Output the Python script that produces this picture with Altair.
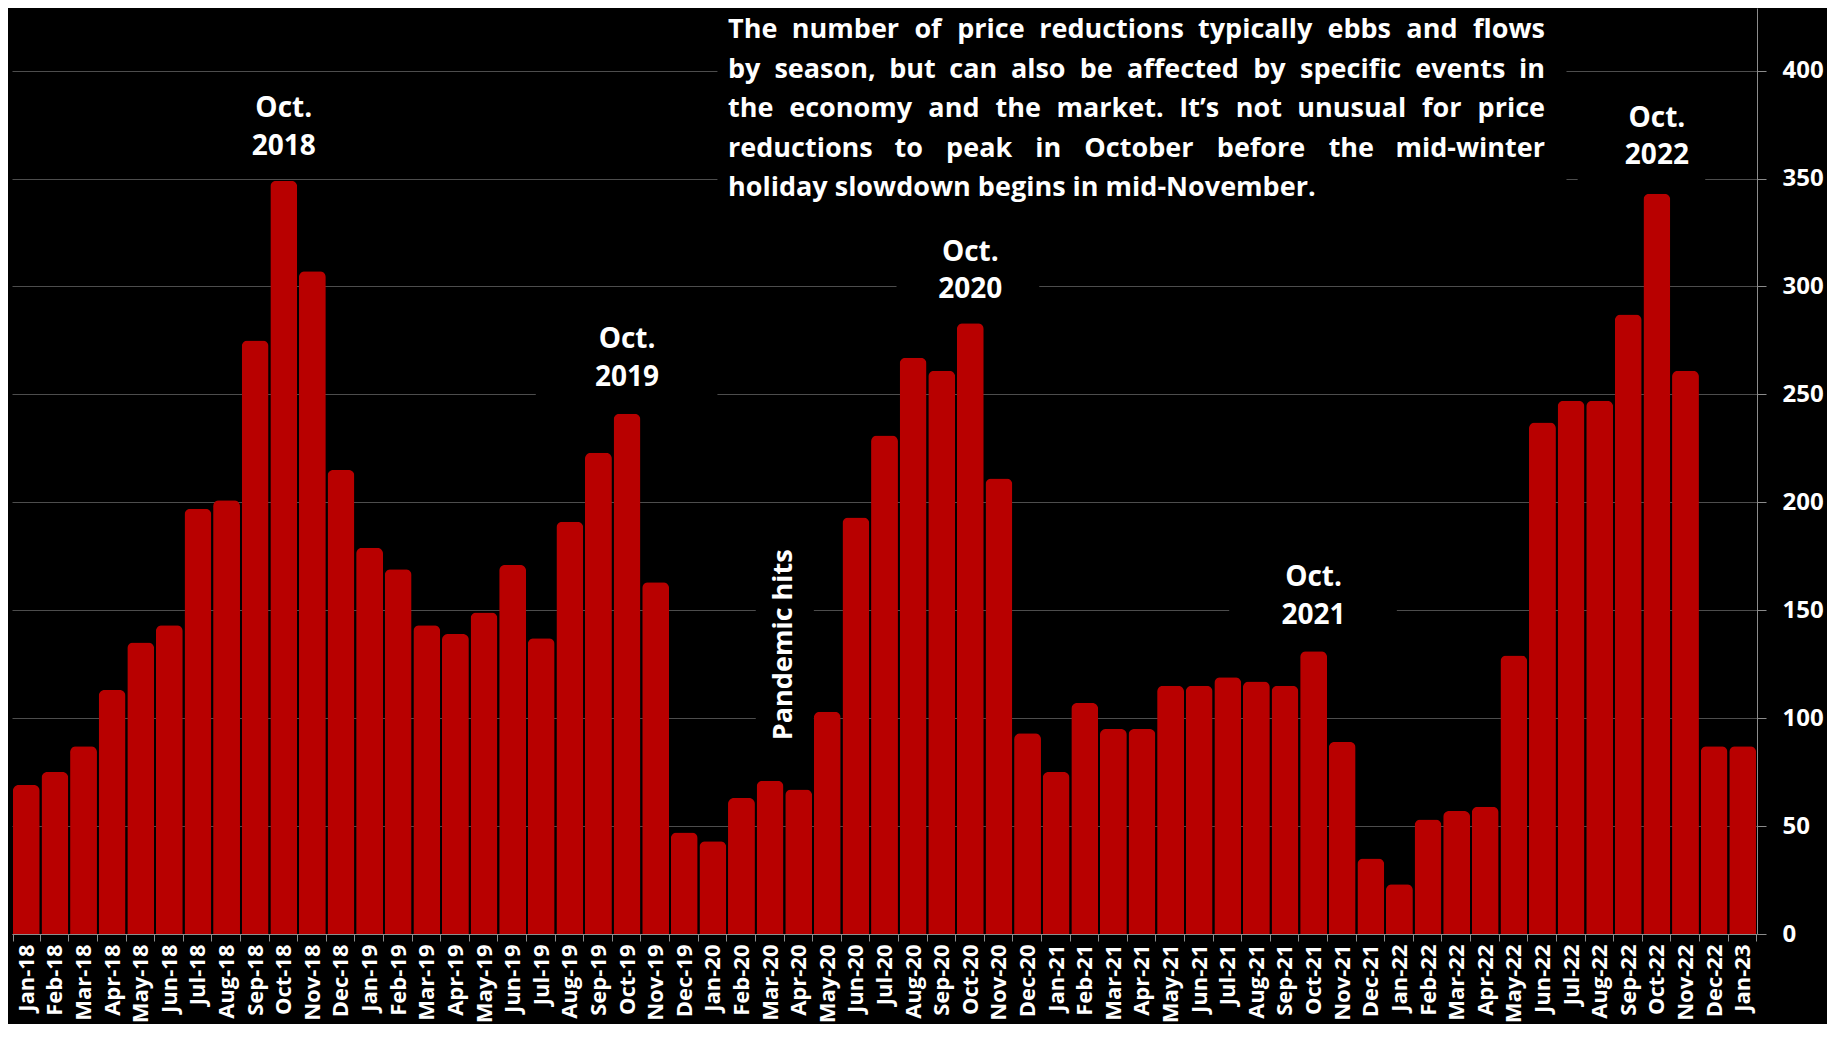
import altair as alt
import pandas as pd

FONT = "Open Sans"

month_names = ["Jan", "Feb", "Mar", "Apr", "May", "Jun", "Jul", "Aug", "Sep", "Oct", "Nov", "Dec"]
months = [f"{m}-{y}" for y in ["18", "19", "20", "21", "22"] for m in month_names] + ["Jan-23"]

values = [69, 75, 87, 113, 135, 143, 197, 201, 275, 349, 307, 215,
          179, 169, 143, 139, 149, 171, 137, 191, 223, 241, 163, 47,
          43, 63, 71, 67, 103, 193, 231, 267, 261, 283, 211, 93,
          75, 107, 95, 95, 115, 115, 119, 117, 115, 131, 89, 35,
          23, 53, 57, 59, 129, 237, 247, 247, 287, 343, 261, 87,
          87]

y_ticks = [0, 50, 100, 150, 200, 250, 300, 350, 400]

# peak annotations (two lines each)
peak_months = ["Oct-18", "Oct-19", "Oct-20", "Oct-21", "Oct-22"]
peak_years = ["2018", "2019", "2020", "2021", "2022"]
peak_line1_y = [382, 275, 315.7, 164.7, 377.6]
peak_line2_y = [364.7, 257.6, 298.2, 147.2, 360.5]

# explanatory note (justified block)
note_lines = [
    "The number of price reductions typically ebbs and flows",
    "by season, but can also be affected by specific events in",
    "the economy and the market. It\u2019s not unusual for price",
    "reductions to peak in October before the mid-winter",
    "holiday slowdown begins in mid-November.",
]
note_y = [414.9, 396.6, 378.3, 360.0, 341.7]

pandemic_text = "Pandemic hits"
pandemic_x = 27.0      # month-index units (boundary Mar-20 / Apr-20)
pandemic_y = 134

# black label backgrounds (month-index units, values)
box_x1 = [24.66, 18.31, 30.92, 42.55, 54.73, 26.0]
box_x2 = [54.34, 24.66, 35.91, 48.41, 59.19, 28.03]
box_y1 = [318, 236, 286, 136, 340, 84]
box_y2 = [429, 290, 334, 178, 388, 184]

# ---------------- layout helpers ----------------
N = len(months)
W, H = 1745, 926
STEP = W / N
NOTE_LEFT, NOTE_RIGHT = 716.0, 1533.0   # plot-area pixels
NOTE_SIZE = 27

# approximate advance widths (em) of Open Sans Bold, used to justify the note
CW = {" ": .26, "a": .57, "b": .62, "c": .50, "d": .62, "e": .58, "f": .39, "g": .55, "h": .63,
      "i": .29, "k": .60, "l": .29, "m": .95, "n": .63, "o": .61, "p": .62, "r": .43, "s": .49,
      "t": .41, "u": .63, "v": .56, "w": .84, "y": .56, "T": .56, "I": .34, "O": .79, "N": .80,
      ",": .26, ".": .27, "-": .32, "\u2019": .20}


def wwidth(word):
    return sum(CW.get(c, .58) for c in word) * NOTE_SIZE * 1.02


note_rows = []
for li, line in enumerate(note_lines):
    yv = note_y[li]
    if li == len(note_lines) - 1:
        note_rows.append({"idx": NOTE_LEFT / STEP, "value": yv, "label": line, "al": "left"})
        continue
    words = line.split(" ")
    widths = [wwidth(w) for w in words]
    gap = (NOTE_RIGHT - NOTE_LEFT - sum(widths)) / (len(words) - 1)
    x = NOTE_LEFT
    for wi, (w, wd) in enumerate(zip(words, widths)):
        if wi == 0:
            note_rows.append({"idx": x / STEP, "value": yv, "label": w, "al": "left"})
        elif wi == len(words) - 1:
            note_rows.append({"idx": NOTE_RIGHT / STEP, "value": yv, "label": w, "al": "right"})
        else:
            note_rows.append({"idx": (x + wd / 2) / STEP, "value": yv, "label": w, "al": "center"})
        x += wd + gap

note_df = pd.DataFrame(note_rows)

df = pd.DataFrame({"month": months, "value": values})
peak_df = pd.DataFrame({
    "month": peak_months + peak_months,
    "value": peak_line1_y + peak_line2_y,
    "label": ["Oct."] * len(peak_months) + peak_years,
})
pand_df = pd.DataFrame({"idx": [pandemic_x], "value": [pandemic_y], "label": [pandemic_text]})
box_df = pd.DataFrame({"idx": box_x1, "idx2": box_x2, "value": box_y1, "value2": box_y2})

y_scale = alt.Scale(domain=[0, 429], nice=False, zero=True)
y_axis = alt.Axis(
    orient="right", values=y_ticks, title=None, grid=True, gridColor="#4d4d4d", gridWidth=1,
    domainColor="#8c8c8c", tickColor="#8c8c8c", tickSize=9, labelPadding=16,
    labelFont=FONT, labelFontSize=24, labelFontWeight="bold", labelColor="white",
)

x_band = alt.X(
    "month:N", sort=months,
    scale=alt.Scale(domain=months, paddingInner=0.06, paddingOuter=0.03),
    axis=alt.Axis(
        title=None, labelAngle=-90, labelFont=FONT, labelFontSize=22, labelFontWeight="bold",
        labelColor="white", tickBand="extent", tickSize=7, tickColor="#8c8c8c",
        domainColor="#8c8c8c", labelPadding=3, grid=False, labelOverlap=False,
    ),
)
x_idx = alt.X("idx:Q", scale=alt.Scale(domain=[0, N], nice=False, zero=False), axis=None)

boxes = alt.Chart(box_df).mark_rect(color="black").encode(
    x=x_idx, x2="idx2:Q",
    y=alt.Y("value:Q", scale=y_scale, axis=y_axis), y2="value2:Q",
)

note_layers = []
for al in ["left", "center", "right"]:
    note_layers.append(
        alt.Chart(note_df).transform_filter(alt.datum.al == al).mark_text(
            font=FONT, fontSize=NOTE_SIZE, fontWeight="bold", color="white", align=al, baseline="alphabetic",
        ).encode(x=x_idx, y=alt.Y("value:Q", scale=y_scale), text="label:N")
    )

pand = alt.Chart(pand_df).mark_text(
    font=FONT, fontSize=27, fontWeight="bold", color="white", align="center", baseline="middle", angle=270,
).encode(x=x_idx, y=alt.Y("value:Q", scale=y_scale), text="label:N")

bars = alt.Chart(df).mark_bar(
    color="#B80000", cornerRadiusTopLeft=6, cornerRadiusTopRight=6,
).encode(x=x_band, y=alt.Y("value:Q", scale=y_scale, axis=y_axis))

peaks = alt.Chart(peak_df).mark_text(
    font=FONT, fontSize=28, fontWeight="bold", color="white", align="center", baseline="middle",
).encode(x=alt.X("month:N", sort=months), y=alt.Y("value:Q", scale=y_scale), text="label:N")

q_layer = alt.layer(boxes, *note_layers, pand)
band_layer = alt.layer(bars, peaks)

chart = alt.layer(q_layer, band_layer).resolve_scale(x="independent").properties(
    width=W, height=H,
    background="black",
    padding={"left": 4, "top": 0, "right": 70, "bottom": 90},
    autosize=alt.AutoSizeParams(type="none"),
).configure_view(stroke=None)

chart.save("out.html", embed_options={"renderer": "svg", "actions": False})
